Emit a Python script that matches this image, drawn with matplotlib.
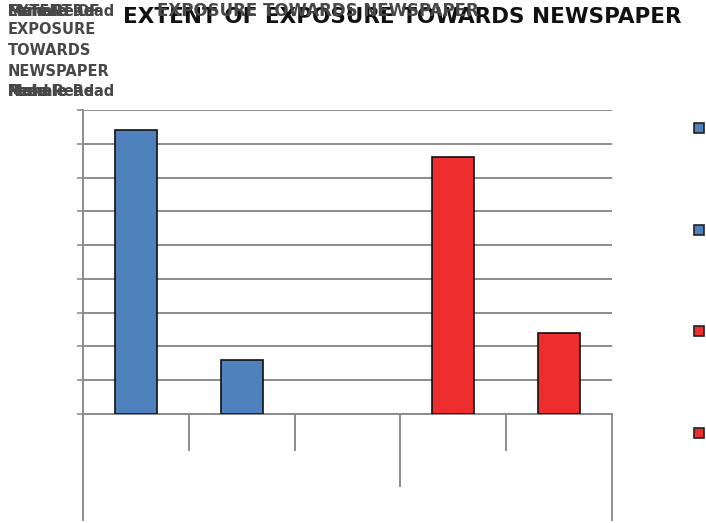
import matplotlib
matplotlib.use("Agg")
import matplotlib.pyplot as plt
from matplotlib.patches import Patch
import numpy as np

# Percent of respondents by gender and reading habit
slots = ["Read", "Not Read", "", "Read", "Not Read"]
gender = ["Male", "Male", "", "Female", "Female"]
values = [84, 16, None, 76, 24]
bar_colors = ["#4F81BD", "#4F81BD", None, "#EE2E2E", "#EE2E2E"]
legend_colors = ["#4F81BD", "#4F81BD", "#EE2E2E", "#EE2E2E"]
title = "EXTENT OF EXPOSURE TOWARDS NEWSPAPER"

plt.rcParams["font.family"] = ["DejaVu Sans"]

fig = plt.figure(figsize=(7.06, 5.23), dpi=100)
ax = fig.add_axes([83 / 706, 1 - 414 / 523, (612 - 83) / 706, (414 - 110) / 523])

x = np.arange(len(slots))
idx = [i for i, v in enumerate(values) if v is not None]
ax.bar(x[idx], [values[i] for i in idx], width=0.4,
       color=[bar_colors[i] for i in idx],
       edgecolor="#111111", linewidth=1.2, zorder=3)

ax.set_xlim(-0.5, len(slots) - 0.5)
ax.set_ylim(0, 90)
ax.set_yticks(np.arange(0, 91, 10))
ax.yaxis.grid(True, color="#8c8c8c", linewidth=1.4, zorder=0)
ax.tick_params(axis="y", length=4.5, color="#8c8c8c", width=1.2, labelleft=False)
ax.set_xticks([])
for s in ["top", "right"]:
    ax.spines[s].set_visible(False)
for s in ["left", "bottom"]:
    ax.spines[s].set_color("#8c8c8c")
    ax.spines[s].set_linewidth(1.4)

# category separators below the axis (multi-level style)
trans = ax.get_xaxis_transform()
edges = np.arange(len(slots) + 1) - 0.5
axh = (414 - 110)
for e in edges:
    if e in (edges[0], edges[-1]):
        depth = 106 / axh
    elif e == 2.5:
        depth = 72 / axh
    else:
        depth = 36 / axh
    ax.plot([e, e], [0, -depth], transform=trans, color="#8c8c8c",
            linewidth=1.4, clip_on=False)

# title
fig.text(402 / 706, 1 - 17 / 523, title, ha="center", va="center",
         fontsize=15.5, color="#111111", fontweight="bold")

# overlapping header labels in the top-left corner
gray = "#484848"
fig.text(157 / 706, 1 - 11 / 523, "EXPOSURE TOWARDS NEWSPAPER", ha="left", va="center",
         fontsize=12, color=gray, fontweight="bold")
for s in ["EXTENT OF", "Male Read", "Female Read", "Male", "Female"]:
    fig.text(8 / 706, 1 - 11 / 523, s, ha="left", va="center",
             fontsize=10.5, color=gray, fontweight="bold")
for i, s in enumerate(["EXPOSURE", "TOWARDS", "NEWSPAPER"]):
    fig.text(8 / 706, 1 - (30 + 20.5 * i) / 523, s, ha="left", va="center",
             fontsize=10.5, color=gray, fontweight="bold")
for s in ["Male", "Female", "Read", "Male Read", "Female Read"]:
    fig.text(8 / 706, 1 - 92 / 523, s, ha="left", va="center",
             fontsize=10.5, color=gray, fontweight="bold")

handles = [Patch(facecolor=c, edgecolor="#222222", linewidth=1.2) for c in legend_colors]
fig.legend(handles, [" "] * len(handles), loc="upper left",
           bbox_to_anchor=(694 / 706, 1 - 122 / 523), frameon=False,
           handlelength=0.75, handleheight=0.75, handletextpad=0.2,
           borderpad=0, borderaxespad=0, labelspacing=6.3, fontsize=10)

fig.savefig("out.png", dpi=100)
